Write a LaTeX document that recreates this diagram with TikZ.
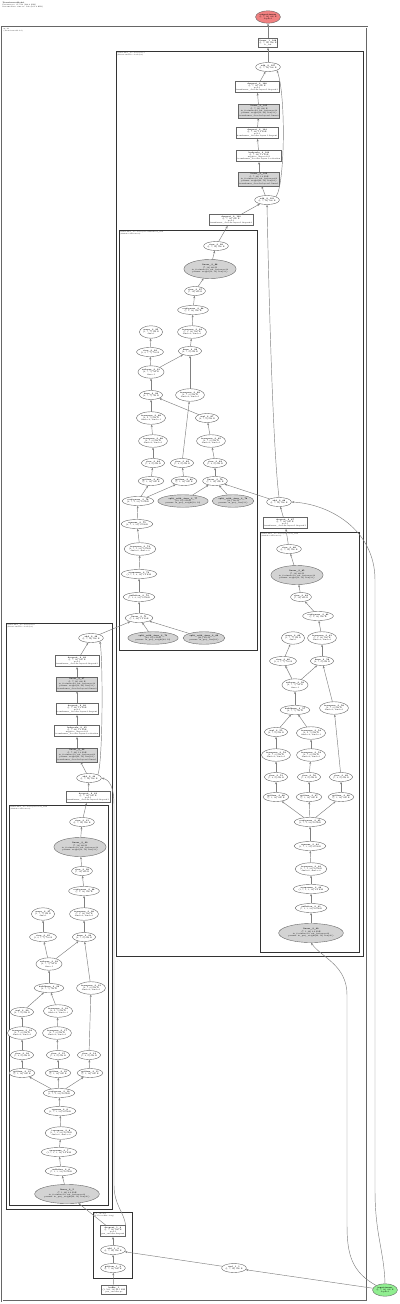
\documentclass[tikz,border=0pt]{standalone}
\usepackage{tikz}
\usetikzlibrary{arrows.meta,shapes.geometric,positioning}

\definecolor{outred}{RGB}{240,128,128}
\definecolor{ingreen}{RGB}{144,238,144}
\definecolor{parmgray}{RGB}{211,211,211}

\tikzset{
  txt/.style={font=\fontsize{5.7}{6.6}\selectfont, align=center},
  op/.style={txt, ellipse, draw=black!60, line width=0.4mm, fill=white, inner sep=0.3mm, minimum height=9mm},
  opp/.style={op, minimum height=12.5mm},
  par/.style={op, fill=parmgray, minimum height=19mm},
  mod/.style={txt, rectangle, draw=black!60, line width=0.4mm, fill=white, inner xsep=1mm, inner ysep=1.3mm},
  modp/.style={mod, fill=parmgray},
  flow/.style={draw=black!50, line width=0.45mm, -{Stealth[length=2.6mm, width=2mm]}},
  grp/.style={draw=black!80, line width=0.9mm},
  grplbl/.style={font=\fontsize{4.5}{5.2}\selectfont, align=left, anchor=north west, inner sep=0.6mm},
}

\begin{document}
\begin{tikzpicture}[x=1mm, y=-1mm]
\useasboundingbox (0,0) rectangle (400,1304);

% header
\node[grplbl, font=\fontsize{5}{5.8}\selectfont] (title) at (2,1.5) {\textbf{TransformerModel}\\Parameters: 25,792 (100.8 KiB)\\Intermediate tensors: 142 (161.2 KiB)};

% clusters
\draw[draw=black!60, line width=0.6mm, double=white, double distance=0.8mm] (2,27) rectangle (367,1301);
\node[grplbl] (lblmodel) at (3,28) {model\\(TransformerModel)};
\draw[grp] (116,51) rectangle (363,956);
\node[grplbl] (lbldec1) at (116.5,51.5) {transformer\_decoder.layers.1\\(TransformerDecoderLayer)};
\draw[grp] (119,230) rectangle (257,650);
\node[grplbl] (lblca) at (119.5,230.5) {transformer\_decoder.layers.1.multihead\_attn\\(MultiheadAttention)};
\draw[grp] (260,532) rectangle (359,952);
\node[grplbl] (lblsa) at (260.5,532.5) {transformer\_decoder.layers.1.self\_attn\\(MultiheadAttention)};
\draw[grp] (6,623) rectangle (112,1209);
\node[grplbl] (lbldec0) at (6.5,623.5) {transformer\_decoder.layers.0\\(TransformerDecoderLayer)};
\draw[grp] (9,805) rectangle (108,1205);
\node[grplbl] (lblls) at (9.5,805.5) {transformer\_decoder.layers.0.self\_attn\\(MultiheadAttention)};
\draw[grp] (93,1212) rectangle (132,1278);
\node[grplbl] (lblpe) at (93.5,1212.5) {pos\_encoder\\(PositionalEncoding)};

% output side
\node[opp, fill=outred] (outp) at (268,17) {\textbf{output-tensor}\\(1, 7, 32) 896 B\\depth:0};
\node[mod] (lin1) at (268,43) {\textbf{linear\_1\_108}\\(1, 7, 32) 896 B\\fc\_out};
\node[op] (add1) at (268,67) {\textbf{add\_2\_107}\\(1, 7, 32) 896 B};
\node[mod] (bdrop3) at (257,87) {\textbf{dropout\_3\_106}\\(1, 7, 32) 896 B\\p=0.1\\transformer\_decoder.layers.1.dropout3};
\node[modp] (blin2) at (259,111) {\textbf{linear\_3\_105}\\(1, 7, 32) 896 B\\in\_features=64, out\_features=32\\params: weight(32, 64) bias(32,)\\transformer\_decoder.layers.1.linear2};
\node[mod] (bdrop) at (257,133) {\textbf{dropout\_3\_104}\\(1, 7, 64) 1.8 KiB\\p=0.1\\transformer\_decoder.layers.1.dropout};
\node[mod] (bact) at (259,156) {\textbf{leakyrelu\_3\_103}\\(1, 7, 64) 1.8 KiB\\negative\_slope=0.01\\transformer\_decoder.layers.1.activation};
\node[modp] (blin1) at (259,179) {\textbf{linear\_3\_102}\\(1, 7, 64) 1.8 KiB\\in\_features=32, out\_features=64\\params: weight(64, 32) bias(64,)\\transformer\_decoder.layers.1.linear1};
\node[op] (badd) at (267,200) {\textbf{add\_2\_101}\\(1, 7, 32) 896 B};
\node[mod] (bdrop2) at (231,220) {\textbf{dropout\_2\_100}\\(1, 7, 32) 896 B\\p=0.1\\transformer\_decoder.layers.1.dropout2};

% cross attention
\node[op] (ca1) at (216,246) {\textbf{view\_3\_99}\\(1, 7, 32) 896 B};
\node[par] (ca2) at (210,269) {\textbf{linear\_3\_98}\\(7, 32) 896 B\\in\_features=32, out\_features=32\\params: weight(32, 32) bias(32,)};
\node[op] (ca3) at (195,291) {\textbf{view\_3\_97}\\(7, 32) 896 B};
\node[op] (ca4) at (193,310) {\textbf{contiguous\_3\_96}\\(7, 1, 32) 896 B};
\node[opp] (ca5) at (151,332) {\textbf{mean\_3\_95}\\(1, 7, 7) 196 B\\dim=1};
\node[opp] (ca6) at (192,332) {\textbf{transpose\_3\_94}\\(7, 1, 32) 896 B\\dim0=0, dim1=1};
\node[op] (ca7) at (150,352) {\textbf{view\_3\_93}\\(1, 4, 7, 7) 784 B};
\node[op] (ca8) at (190,351) {\textbf{bmm\_3\_92}\\(4, 7, 8) 896 B};
\node[opp] (ca9) at (151,372) {\textbf{softmax\_3\_91}\\(4, 7, 7) 784 B\\dim=-1};
\node[op] (ca10) at (151,395) {\textbf{bmm\_3\_90}\\(4, 7, 7) 784 B};
\node[opp] (ca11) at (190,395) {\textbf{transpose\_3\_89}\\(4, 7, 8) 896 B\\dim0=0, dim1=1};
\node[opp] (ca12) at (151,418) {\textbf{transpose\_3\_88}\\(4, 8, 7) 896 B\\dim0=-2, dim1=-1};
\node[op] (ca13) at (207,418) {\textbf{mul\_3\_87}\\(4, 7, 8) 896 B};
\node[opp] (ca14) at (153,441) {\textbf{transpose\_3\_86}\\(4, 7, 8) 896 B\\dim0=0, dim1=1};
\node[opp] (ca15) at (211,441) {\textbf{transpose\_3\_85}\\(4, 7, 8) 896 B\\dim0=0, dim1=1};
\node[op] (ca16) at (153,463) {\textbf{view\_3\_84}\\(7, 4, 8) 896 B};
\node[op] (ca17) at (182,463) {\textbf{view\_3\_83}\\(7, 4, 8) 896 B};
\node[op] (ca18) at (215,463) {\textbf{view\_3\_82}\\(7, 4, 8) 896 B};
\node[op] (ca19) at (151,481) {\textbf{getitem\_3\_81}\\(7, 1, 32) 896 B};
\node[op] (ca20) at (184,481) {\textbf{getitem\_3\_80}\\(7, 1, 32) 896 B};
\node[op] (ca21) at (215,481) {\textbf{linear\_3\_79}\\(7, 1, 32) 896 B};
\node[op] (ca22) at (138,501) {\textbf{contiguous\_3\_78}\\(2, 7, 1, 32) 1.8 KiB};
\node[opp, fill=parmgray] (ca23) at (183,501) {\textbf{split\_with\_sizes\_3\_77}\\(32, 32) 4 KiB\\params: in\_proj\_weight(32, 32)};
\node[opp, fill=parmgray] (ca24) at (233,501) {\textbf{split\_with\_sizes\_3\_76}\\(32,) 128 B\\params: in\_proj\_bias(32,)};
\node[op] (ca25) at (137,524) {\textbf{squeeze\_3\_75}\\(2, 7, 1, 32) 1.8 KiB};
\node[opp] (ca26) at (140,549) {\textbf{transpose\_3\_74}\\(2, 7, 1, 32) 1.8 KiB\\dim0=0, dim1=-2};
\node[op] (ca27) at (139,574) {\textbf{unsqueeze\_3\_73}\\(1, 7, 1, 2, 32) 1.8 KiB};
\node[op] (ca28) at (139,597) {\textbf{unflatten\_3\_72}\\(7, 1, 2, 32) 1.8 KiB};
\node[op] (ca29) at (139,618) {\textbf{linear\_3\_71}\\(7, 1, 64) 1.8 KiB};
\node[opp, fill=parmgray] (ca30) at (153,638) {\textbf{split\_with\_sizes\_3\_70}\\(64, 32) 8 KiB\\params: in\_proj\_weight(64, 32)};
\node[opp, fill=parmgray] (ca31) at (204,638) {\textbf{split\_with\_sizes\_3\_69}\\(64,) 256 B\\params: in\_proj\_bias(64,)};

\node[op] (badd2) at (279,502) {\textbf{add\_2\_68}\\(1, 7, 32) 896 B};
\node[mod] (bdrop1) at (285,523) {\textbf{dropout\_2\_67}\\(1, 7, 32) 896 B\\p=0.1\\transformer\_decoder.layers.1.dropout1};

% self attention, layer 1
\node[op] (sa1) at (289,549) {\textbf{view\_3\_66}\\(1, 7, 32) 896 B};
\node[par] (sa2) at (297,575) {\textbf{linear\_3\_65}\\(7, 32) 896 B\\in\_features=32, out\_features=32\\params: weight(32, 32) bias(32,)};
\node[op] (sa3) at (301,597) {\textbf{view\_3\_64}\\(7, 32) 896 B};
\node[op] (sa4) at (318,616) {\textbf{contiguous\_3\_63}\\(7, 1, 32) 896 B};
\node[opp] (sa5) at (293,638) {\textbf{mean\_3\_62}\\(1, 7, 7) 196 B\\dim=1};
\node[opp] (sa6) at (322,638) {\textbf{transpose\_3\_61}\\(7, 1, 32) 896 B\\dim0=0, dim1=1};
\node[op] (sa7) at (283,661) {\textbf{view\_3\_60}\\(1, 4, 7, 7) 784 B};
\node[op] (sa8) at (322,661) {\textbf{bmm\_3\_59}\\(4, 7, 8) 896 B};
\node[opp] (sa9) at (295,685) {\textbf{softmax\_3\_58}\\(4, 7, 7) 784 B\\dim=-1};
\node[op] (sa10) at (295,710) {\textbf{baddbmm\_3\_57}\\(4, 7, 7) 784 B};
\node[opp] (sa11) at (334,708) {\textbf{transpose\_3\_56}\\(4, 7, 8) 896 B\\dim0=0, dim1=1};
\node[op] (sa12) at (276,732) {\textbf{mul\_3\_55}\\(4, 7, 8) 896 B};
\node[opp] (sa13) at (311,733) {\textbf{transpose\_3\_54}\\(4, 8, 7) 896 B\\dim0=-2, dim1=-1};
\node[opp] (sa14) at (276,755) {\textbf{transpose\_3\_53}\\(4, 7, 8) 896 B\\dim0=0, dim1=1};
\node[opp] (sa15) at (311,755) {\textbf{transpose\_3\_52}\\(4, 7, 8) 896 B\\dim0=0, dim1=1};
\node[op] (sa16) at (276,777) {\textbf{view\_3\_51}\\(7, 4, 8) 896 B};
\node[op] (sa17) at (309,777) {\textbf{view\_3\_50}\\(7, 4, 8) 896 B};
\node[op] (sa18) at (341,777) {\textbf{view\_3\_49}\\(7, 4, 8) 896 B};
\node[op] (sa19) at (276,797) {\textbf{getitem\_3\_48}\\(7, 1, 32) 896 B};
\node[op] (sa20) at (309,797) {\textbf{getitem\_3\_47}\\(7, 1, 32) 896 B};
\node[op] (sa21) at (341,797) {\textbf{getitem\_3\_46}\\(7, 1, 32) 896 B};
\node[op] (sa22) at (310,822) {\textbf{contiguous\_3\_45}\\(3, 7, 1, 32) 2.6 KiB};
\node[op] (sa23) at (310,846) {\textbf{squeeze\_3\_44}\\(3, 7, 1, 32) 2.6 KiB};
\node[opp] (sa24) at (311,869) {\textbf{transpose\_3\_43}\\(3, 7, 1, 32) 2.6 KiB\\dim0=0, dim1=-2};
\node[op] (sa25) at (311,889) {\textbf{unsqueeze\_3\_42}\\(1, 7, 1, 3, 32) 2.6 KiB};
\node[op] (sa26) at (311,908) {\textbf{unflatten\_3\_41}\\(7, 1, 3, 32) 2.6 KiB};
\node[par] (sa27) at (311,933) {\textbf{linear\_3\_40}\\(7, 1, 96) 2.6 KiB\\in\_features=32, out\_features=96\\params: in\_proj\_weight(96, 32) bias(96,)};

% layer 0
\node[op] (ladd) at (91,638) {\textbf{add\_2\_39}\\(1, 7, 32) 896 B};
\node[mod] (ldrop3) at (77,661) {\textbf{dropout\_2\_38}\\(1, 7, 32) 896 B\\p=0.1\\transformer\_decoder.layers.0.dropout3};
\node[modp] (llin2) at (77,684) {\textbf{linear\_2\_37}\\(1, 7, 32) 896 B\\in\_features=64, out\_features=32\\params: weight(32, 64) bias(32,)\\transformer\_decoder.layers.0.linear2};
\node[mod] (ldrop) at (77,709) {\textbf{dropout\_2\_36}\\(1, 7, 64) 1.8 KiB\\p=0.1\\transformer\_decoder.layers.0.dropout};
\node[mod] (lact) at (77,731) {\textbf{leakyrelu\_2\_35}\\(1, 7, 64) 1.8 KiB\\negative\_slope=0.01\\transformer\_decoder.layers.0.activation};
\node[modp] (llin1) at (77,755) {\textbf{linear\_2\_34}\\(1, 7, 64) 1.8 KiB\\in\_features=32, out\_features=64\\params: weight(64, 32) bias(64,)\\transformer\_decoder.layers.0.linear1};
\node[op] (ladd2) at (89,778) {\textbf{add\_2\_33}\\(1, 7, 32) 896 B};
\node[mod] (ldrop1) at (88,797) {\textbf{dropout\_2\_32}\\(1, 7, 32) 896 B\\p=0.1\\transformer\_decoder.layers.0.dropout1};

% self attention, layer 0
\node[op] (ls1) at (82,822) {\textbf{view\_3\_31}\\(1, 7, 32) 896 B};
\node[par] (ls2) at (80,847) {\textbf{linear\_3\_30}\\(7, 32) 896 B\\in\_features=32, out\_features=32\\params: weight(32, 32) bias(32,)};
\node[op] (ls3) at (82,871) {\textbf{view\_3\_29}\\(7, 32) 896 B};
\node[op] (ls4) at (84,891) {\textbf{contiguous\_3\_28}\\(7, 1, 32) 896 B};
\node[opp] (ls5) at (43,914) {\textbf{mean\_3\_27}\\(1, 7, 7) 196 B\\dim=1};
\node[opp] (ls6) at (84,914) {\textbf{transpose\_3\_26}\\(7, 1, 32) 896 B\\dim0=0, dim1=1};
\node[op] (ls7) at (43,937) {\textbf{view\_3\_25}\\(1, 4, 7, 7) 784 B};
\node[op] (ls8) at (84,937) {\textbf{bmm\_3\_24}\\(4, 7, 8) 896 B};
\node[opp] (ls9) at (49,964) {\textbf{softmax\_3\_23}\\(4, 7, 7) 784 B\\dim=-1};
\node[op] (ls10) at (49,988) {\textbf{baddbmm\_3\_22}\\(4, 7, 7) 784 B};
\node[opp] (ls11) at (91,988) {\textbf{transpose\_3\_21}\\(4, 7, 8) 896 B\\dim0=0, dim1=1};
\node[op] (ls12) at (22,1012) {\textbf{mul\_3\_20}\\(4, 7, 8) 896 B};
\node[opp] (ls13) at (58,1011) {\textbf{transpose\_3\_19}\\(4, 8, 7) 896 B\\dim0=-2, dim1=-1};
\node[opp] (ls14) at (22,1033) {\textbf{transpose\_3\_18}\\(4, 7, 8) 896 B\\dim0=0, dim1=1};
\node[opp] (ls15) at (57,1033) {\textbf{transpose\_3\_17}\\(4, 7, 8) 896 B\\dim0=0, dim1=1};
\node[op] (ls16) at (22,1055) {\textbf{view\_3\_16}\\(7, 4, 8) 896 B};
\node[op] (ls17) at (58,1055) {\textbf{view\_3\_15}\\(7, 4, 8) 896 B};
\node[op] (ls18) at (89,1055) {\textbf{view\_3\_14}\\(7, 4, 8) 896 B};
\node[op] (ls19) at (22,1073) {\textbf{getitem\_3\_13}\\(7, 1, 32) 896 B};
\node[op] (ls20) at (58,1073) {\textbf{getitem\_3\_12}\\(7, 1, 32) 896 B};
\node[op] (ls21) at (90,1073) {\textbf{getitem\_3\_11}\\(7, 1, 32) 896 B};
\node[op] (ls22) at (59,1093) {\textbf{contiguous\_3\_10}\\(3, 7, 1, 32) 2.6 KiB};
\node[op] (ls23) at (60,1111) {\textbf{squeeze\_3\_9}\\(3, 7, 1, 32) 2.6 KiB};
\node[opp] (ls24) at (61,1133) {\textbf{transpose\_3\_8}\\(3, 7, 1, 32) 2.6 KiB\\dim0=0, dim1=-2};
\node[op] (ls25) at (59,1152) {\textbf{unsqueeze\_3\_7}\\(1, 7, 1, 3, 32) 2.6 KiB};
\node[op] (ls26) at (61,1171) {\textbf{unflatten\_3\_6}\\(7, 1, 3, 32) 2.6 KiB};
\node[par] (ls27) at (67,1194) {\textbf{linear\_3\_5}\\(7, 1, 96) 2.6 KiB\\in\_features=32, out\_features=96\\params: in\_proj\_weight(96, 32) bias(96,)};

% positional encoding and input
\node[mod] (pedrop) at (113,1231) {\textbf{dropout\_1\_4}\\(1, 7, 32) 896 B\\p=0.1\\pos\_encoder.dropout};
\node[op] (peadd) at (113,1250) {\textbf{add\_1\_3}\\(1, 7, 32) 896 B};
\node[op] (pegetitem) at (113,1268) {\textbf{getitem\_1\_2}\\(1, 7, 32) 896 B};
\node[mod] (pebuf) at (114,1290) {\textbf{buffer\_1}\\(1, 500, 32) 62.5 KiB\\pos\_encoder.pe};
\node[op] (inmul) at (234,1268) {\textbf{mul\_1\_1}\\(1, 7, 32) 896 B};
\node[opp, fill=ingreen] (inp) at (385,1290) {\textbf{input-tensor}\\(1, 7, 32) 896 B\\depth:0};

% connections, output side
\draw[flow] (lin1) -- (outp);
\draw[flow] (add1) -- (lin1);
\draw[flow] (bdrop3) -- (add1);
\draw[flow] (blin2) -- (bdrop3);
\draw[flow] (bdrop) -- (blin2);
\draw[flow] (bact) -- (bdrop);
\draw[flow] (blin1) -- (bact);
\draw[flow] (badd) -- (blin1);
\draw[flow] (badd.north east) .. controls (285,185) and (286,95) .. (add1.south east);
\draw[flow] (bdrop2) -- (badd);
\draw[flow] (ca1) -- (bdrop2);

% connections, cross attention
\draw[flow] (ca2) -- (ca1);
\draw[flow] (ca3) -- (ca2);
\draw[flow] (ca4) -- (ca3);
\draw[flow] (ca6) -- (ca4);
\draw[flow] (ca8) -- (ca6);
\draw[flow] (ca7) -- (ca5);
\draw[flow] (ca9) -- (ca7);
\draw[flow] (ca9) -- (ca8);
\draw[flow] (ca10) -- (ca9);
\draw[flow] (ca11) -- (ca8);
\draw[flow] (ca12) -- (ca10);
\draw[flow] (ca13) -- (ca10);
\draw[flow] (ca14) -- (ca12);
\draw[flow] (ca15) -- (ca13);
\draw[flow] (ca16) -- (ca14);
\draw[flow] (ca17) -- (ca11);
\draw[flow] (ca18) -- (ca15);
\draw[flow] (ca19) -- (ca16);
\draw[flow] (ca20) -- (ca17);
\draw[flow] (ca21) -- (ca18);
\draw[flow] (ca22) -- (ca19);
\draw[flow] (ca22) -- (ca20);
\draw[flow] (ca23) -- (ca21);
\draw[flow] (ca24) -- (ca21);
\draw[flow] (badd2) -- (ca21);
\draw[flow] (ca25) -- (ca22);
\draw[flow] (ca26) -- (ca25);
\draw[flow] (ca27) -- (ca26);
\draw[flow] (ca28) -- (ca27);
\draw[flow] (ca29) -- (ca28);
\draw[flow] (ca30) -- (ca29);
\draw[flow] (ca31) -- (ca29);
\draw[flow] (ladd) -- (ca29);
\draw[flow] (badd2.north) .. controls (273,450) and (269,300) .. (badd.south);
\draw[flow] (bdrop1) -- (badd2);

% connections, self attention layer 1
\draw[flow] (sa1) -- (bdrop1);
\draw[flow] (sa2) -- (sa1);
\draw[flow] (sa3) -- (sa2);
\draw[flow] (sa4) -- (sa3);
\draw[flow] (sa6) -- (sa4);
\draw[flow] (sa8) -- (sa6);
\draw[flow] (sa7) -- (sa5);
\draw[flow] (sa9) -- (sa7);
\draw[flow] (sa9) -- (sa8);
\draw[flow] (sa10) -- (sa9);
\draw[flow] (sa11) -- (sa8);
\draw[flow] (sa12) -- (sa10);
\draw[flow] (sa13) -- (sa10);
\draw[flow] (sa14) -- (sa12);
\draw[flow] (sa15) -- (sa13);
\draw[flow] (sa16) -- (sa14);
\draw[flow] (sa17) -- (sa15);
\draw[flow] (sa18) -- (sa11);
\draw[flow] (sa19) -- (sa16);
\draw[flow] (sa20) -- (sa17);
\draw[flow] (sa21) -- (sa18);
\draw[flow] (sa22) -- (sa19);
\draw[flow] (sa22) -- (sa20);
\draw[flow] (sa22) -- (sa21);
\draw[flow] (sa23) -- (sa22);
\draw[flow] (sa24) -- (sa23);
\draw[flow] (sa25) -- (sa24);
\draw[flow] (sa26) -- (sa25);
\draw[flow] (sa27) -- (sa26);

% connections, layer 0
\draw[flow] (ldrop3) -- (ladd);
\draw[flow] (llin2) -- (ldrop3);
\draw[flow] (ldrop) -- (llin2);
\draw[flow] (lact) -- (ldrop);
\draw[flow] (llin1) -- (lact);
\draw[flow] (ladd2) -- (llin1);
\draw[flow] (ladd2.north east) .. controls (103,760) and (103,660) .. (ladd.south east);
\draw[flow] (ldrop1) -- (ladd2);
\draw[flow] (ls1) -- (ldrop1);
\draw[flow] (ls2) -- (ls1);
\draw[flow] (ls3) -- (ls2);
\draw[flow] (ls4) -- (ls3);
\draw[flow] (ls6) -- (ls4);
\draw[flow] (ls8) -- (ls6);
\draw[flow] (ls7) -- (ls5);
\draw[flow] (ls9) -- (ls7);
\draw[flow] (ls9) -- (ls8);
\draw[flow] (ls10) -- (ls9);
\draw[flow] (ls11) -- (ls8);
\draw[flow] (ls12) -- (ls10);
\draw[flow] (ls13) -- (ls10);
\draw[flow] (ls14) -- (ls12);
\draw[flow] (ls15) -- (ls13);
\draw[flow] (ls16) -- (ls14);
\draw[flow] (ls17) -- (ls15);
\draw[flow] (ls18) -- (ls11);
\draw[flow] (ls19) -- (ls16);
\draw[flow] (ls20) -- (ls17);
\draw[flow] (ls21) -- (ls18);
\draw[flow] (ls22) -- (ls19);
\draw[flow] (ls22) -- (ls20);
\draw[flow] (ls22) -- (ls21);
\draw[flow] (ls23) -- (ls22);
\draw[flow] (ls24) -- (ls23);
\draw[flow] (ls25) -- (ls24);
\draw[flow] (ls26) -- (ls25);
\draw[flow] (ls27) -- (ls26);

% connections, input side
\draw[flow] (pedrop) -- (ls27);
\draw[flow] (pedrop.north east) .. controls (124,1212) and (114,1205) .. (114,1185) -- (114,805) .. controls (114,788) and (110,780) .. (ladd2.east);
\draw[flow] (peadd) -- (pedrop);
\draw[flow] (pegetitem) -- (peadd);
\draw[flow] (pebuf) -- (pegetitem);
\draw[flow] (inmul) -- (peadd);
\draw[flow] (inp) -- (inmul);
\draw[flow] (inp.north west) .. controls (352,1272) and (347,1255) .. (347,1225) -- (347,995) .. controls (347,965) and (322,958) .. (sa27.south);
\draw[flow] (inp.north) .. controls (384,1250) and (375,1235) .. (375,1190) -- (375,580) .. controls (375,530) and (330,504) .. (badd2.east);

\end{tikzpicture}
\end{document}
